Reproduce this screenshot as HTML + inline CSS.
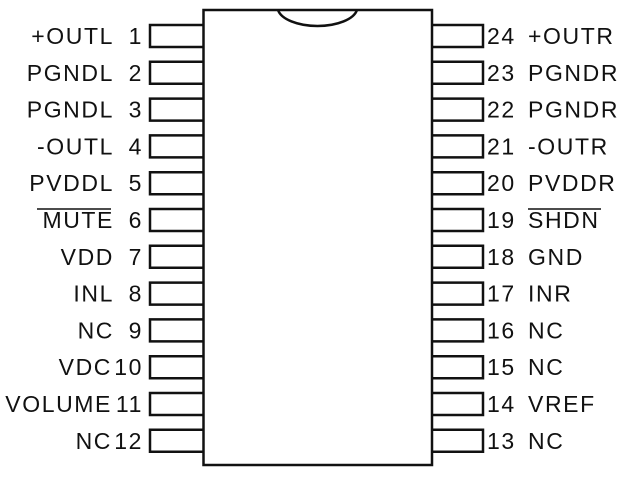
<!DOCTYPE html>
<html><head><style>
html,body{margin:0;padding:0;background:#fff;}
svg{display:block}
text{font-family:"Liberation Sans",Arial,sans-serif;font-size:23px;fill:#111;letter-spacing:1.6px}
</style></head><body>
<svg width="624" height="477" viewBox="0 0 624 477" xmlns="http://www.w3.org/2000/svg">
<g fill="none" stroke="#111" stroke-width="2.5">
<rect x="203.5" y="10" width="228.5" height="455"/>
<path d="M278 10 A40 19 0 0 0 357 10" />
</g>
<g fill="none" stroke="#111" stroke-width="2.5" id="pins"></g>
<g id="txt"></g>
<script>
var L=["+OUTL","PGNDL","PGNDL","-OUTL","PVDDL","MUTE","VDD","INL","NC","VDC","VOLUME","NC"];
var R=["NC","VREF","NC","NC","INR","GND","SHDN","PVDDR","-OUTR","PGNDR","PGNDR","+OUTR"];
var ns="http://www.w3.org/2000/svg",p=document.getElementById("pins"),t=document.getElementById("txt");
function el(n,a,par,txt){var e=document.createElementNS(ns,n);for(var k in a)e.setAttribute(k,a[k]);if(txt)e.textContent=txt;par.appendChild(e);return e;}
for(var i=0;i<12;i++){
 var y=25+i*36.8, c=y+11, b=c+8;
 el("path",{d:"M203 "+y+" H150 V"+(y+22)+" H203"},p);
 el("path",{d:"M432 "+y+" H483 V"+(y+22)+" H432"},p);
 el("text",{x:143,y:b,"text-anchor":"end"},t,String(i+1));
 var lx = (i>=9)?112:114;
 el("text",{x:lx,y:b,"text-anchor":"end"},t,L[i]);
 if(L[i]=="MUTE") el("line",{x1:37,y1:c-11,x2:111,y2:c-11,stroke:"#111","stroke-width":1.5},t);
 el("text",{x:487,y:b},t,String(24-i));
 var r=R[11-i];
 el("text",{x:528,y:b},t,r);
 if(r=="SHDN") el("line",{x1:528,y1:c-11,x2:601,y2:c-11,stroke:"#111","stroke-width":1.5},t);
}
</script>
</svg>
</body></html>
